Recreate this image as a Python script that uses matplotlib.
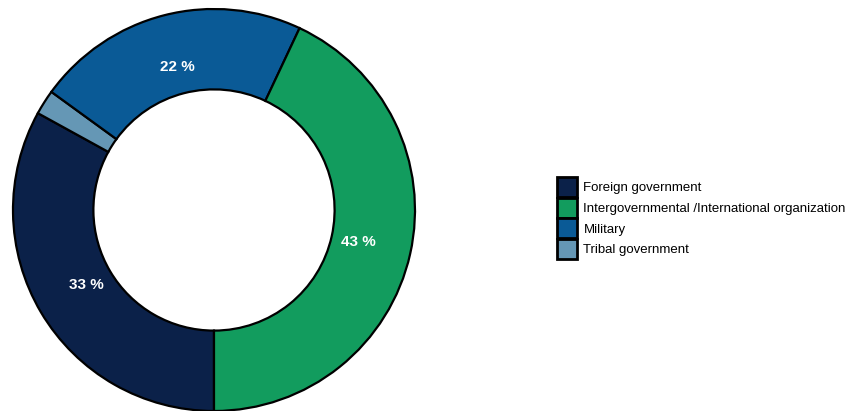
import matplotlib
matplotlib.use("Agg")
import matplotlib.pyplot as plt
from matplotlib.patches import Patch
import numpy as np

plt.rcParams['font.family'] = ['Liberation Sans', 'DejaVu Sans']

# Wedge order as drawn clockwise from the bottom of the ring
categories = ["Foreign government", "Tribal government", "Military",
              "Intergovernmental /International organization"]
shares = [33, 2, 22, 43]
colors = ["#0b2149", "#6597b5", "#0a5a96", "#129c5e"]

# Legend order
legend_labels = ["Foreign government",
                 "Intergovernmental /International organization",
                 "Military", "Tribal government"]

W, H = 854, 411
fig = plt.figure(figsize=(W / 100, H / 100), dpi=100)
cx, cy, r = 214, H - 210, 201
ax = fig.add_axes([(cx - r) / W, (cy - r) / H, 2 * r / W, 2 * r / H])

wedges, _ = ax.pie(shares, colors=colors, startangle=270, counterclock=False,
                   radius=1.0,
                   wedgeprops=dict(width=0.4, edgecolor='black', linewidth=1.6))
ax.set_xlim(-1, 1)
ax.set_ylim(-1, 1)
ax.set_aspect('equal')
ax.axis('off')

theta = 270.0
for val in shares:
    mid = np.deg2rad(theta - val * 3.6 / 2)
    theta -= val * 3.6
    if val < 5:
        continue
    rl = 0.735
    ax.text(rl * np.cos(mid), rl * np.sin(mid), f"{val} %", color='white',
            fontsize=11, fontweight='bold', ha='center', va='center')

color_map = dict(zip(categories, colors))
handles = [Patch(facecolor=color_map[l], edgecolor='black', linewidth=2)
           for l in legend_labels]
fig.legend(handles, legend_labels, loc='center left',
           bbox_to_anchor=(557 / W, (H - 218) / H), frameon=False,
           fontsize=9.5, handlelength=1.5, handleheight=1.95,
           labelspacing=0.05, handletextpad=0.5, borderaxespad=0,
           borderpad=0)

fig.savefig("out.png", dpi=100)
